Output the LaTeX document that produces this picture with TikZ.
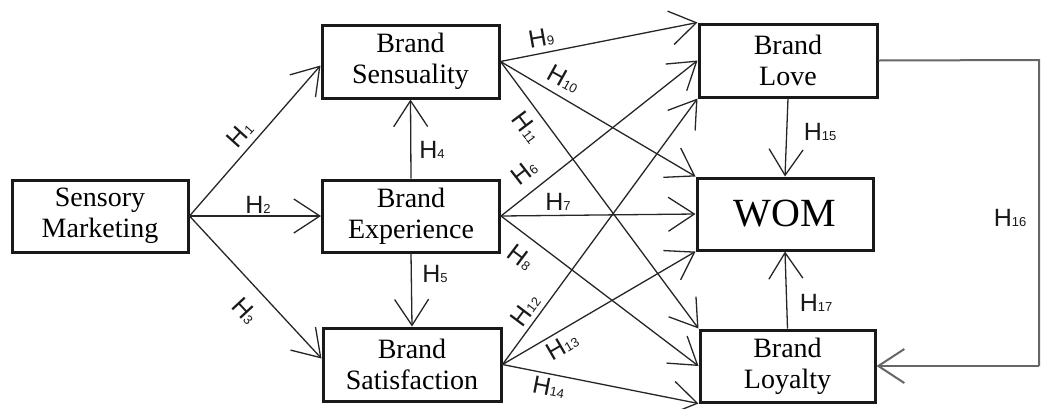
\documentclass[tikz,border=0pt]{standalone}
\usepackage{fontspec}
\setmainfont{Liberation Serif}
\newfontfamily\labfont{Liberation Sans}
\usetikzlibrary{arrows.meta,calc}
\newcommand\hyp[1]{{\labfont\fontsize{25}{25}\selectfont H{\fontsize{13}{13}\selectfont #1}}}
\tikzset{
  box/.style={draw=black!90, line width=3pt, align=center, inner sep=0pt,
    font=\fontsize{28}{31}\selectfont, text=black},
  conn/.style={draw=black!85, line width=1.3pt, -{Straight Barb[length=26pt,width=34pt]}},
  loopline/.style={draw=black!60, line width=2pt},
  hl/.style={inner sep=0pt, text=black!90}
}
\begin{document}
\begin{tikzpicture}[x=1pt,y=-1pt]
\useasboundingbox (0,0) rectangle (1041,408);
% boxes
\node[box, minimum width=176pt, minimum height=72pt] (sm)  at (100,216)   {Sensory\\Marketing};
\node[box, minimum width=177pt, minimum height=73pt] (bs)  at (410.5,61.5) {Brand\\Sensuality};
\node[box, minimum width=177pt, minimum height=72pt] (be)  at (411,216)   {Brand\\Experience};
\node[box, minimum width=178pt, minimum height=73pt] (bsa) at (412,364.5) {Brand\\Satisfaction};
\node[box, minimum width=178pt, minimum height=73pt] (bl)  at (788,60.5)  {Brand\\Love};
\node[box, minimum width=176pt, minimum height=72pt, font=\fontsize{40}{44}\selectfont] (wom) at (785,214) {WOM};
\node[box, minimum width=175pt, minimum height=72pt] (bly) at (787.5,366) {Brand\\Loyalty};
% first layer
\draw[conn] (sm.east) -- ($(bs.west)+(0,4)$);
\draw[conn] (sm.east) -- (be.west);
\draw[conn] (sm.east) -- ($(bsa.west)+(0,-6)$);
% vertical
\draw[conn] (be.north) -- (bs.south);
\draw[conn] (be.south) -- (bsa.north);
\draw[conn] (bl.south) -- (wom.north);
\draw[conn] (bly.north) -- (wom.south);
% crossing layer
\draw[conn] (bs.east) -- (bl.north west);
\draw[conn] (bs.east) -- (wom.north west);
\draw[conn] (bs.east) -- (bly.north west);
\draw[conn] (be.east) -- (bl.west);
\draw[conn] (be.east) -- (wom.west);
\draw[conn] (be.east) -- (bly.west);
\draw[conn] (bsa.east) -- (bl.south west);
\draw[conn] (bsa.east) -- (wom.south west);
\draw[conn] (bsa.east) -- (bly.south west);
% H16 loop
\coordinate (c1) at (1039,60);
\coordinate (c2) at (1039,366);
\draw[loopline] (bl.east) -- (c1) -- (c2);
\draw[loopline, -{Straight Barb[length=26pt,width=34pt]}] (c2) -- (bly.east);
% labels
\node[hl, rotate=48]  (h1)  at (240,134) {\hyp{1}};
\node[hl]             (h2)  at (258,205) {\hyp{2}};
\node[hl, rotate=-47] (h3)  at (245,311) {\hyp{3}};
\node[hl]             (h4)  at (432,150) {\hyp{4}};
\node[hl]             (h5)  at (435,274) {\hyp{5}};
\node[hl, rotate=38]  (h6)  at (524,172) {\hyp{6}};
\node[hl]             (h7)  at (558,202) {\hyp{7}};
\node[hl, rotate=-37] (h8)  at (521,257) {\hyp{8}};
\node[hl, rotate=10]  (h9)  at (541,38)  {\hyp{9}};
\node[hl, rotate=-29] (h10) at (564,79)  {\hyp{10}};
\node[hl, rotate=-53] (h11) at (527,127) {\hyp{11}};
\node[hl, rotate=53]  (h12) at (525,310) {\hyp{12}};
\node[hl, rotate=30]  (h13) at (562,346) {\hyp{13}};
\node[hl, rotate=-11] (h14) at (549,387) {\hyp{14}};
\node[hl]             (h15) at (820,132) {\hyp{15}};
\node[hl]             (h16) at (1010,218) {\hyp{16}};
\node[hl]             (h17) at (816,303) {\hyp{17}};
\end{tikzpicture}
\end{document}
